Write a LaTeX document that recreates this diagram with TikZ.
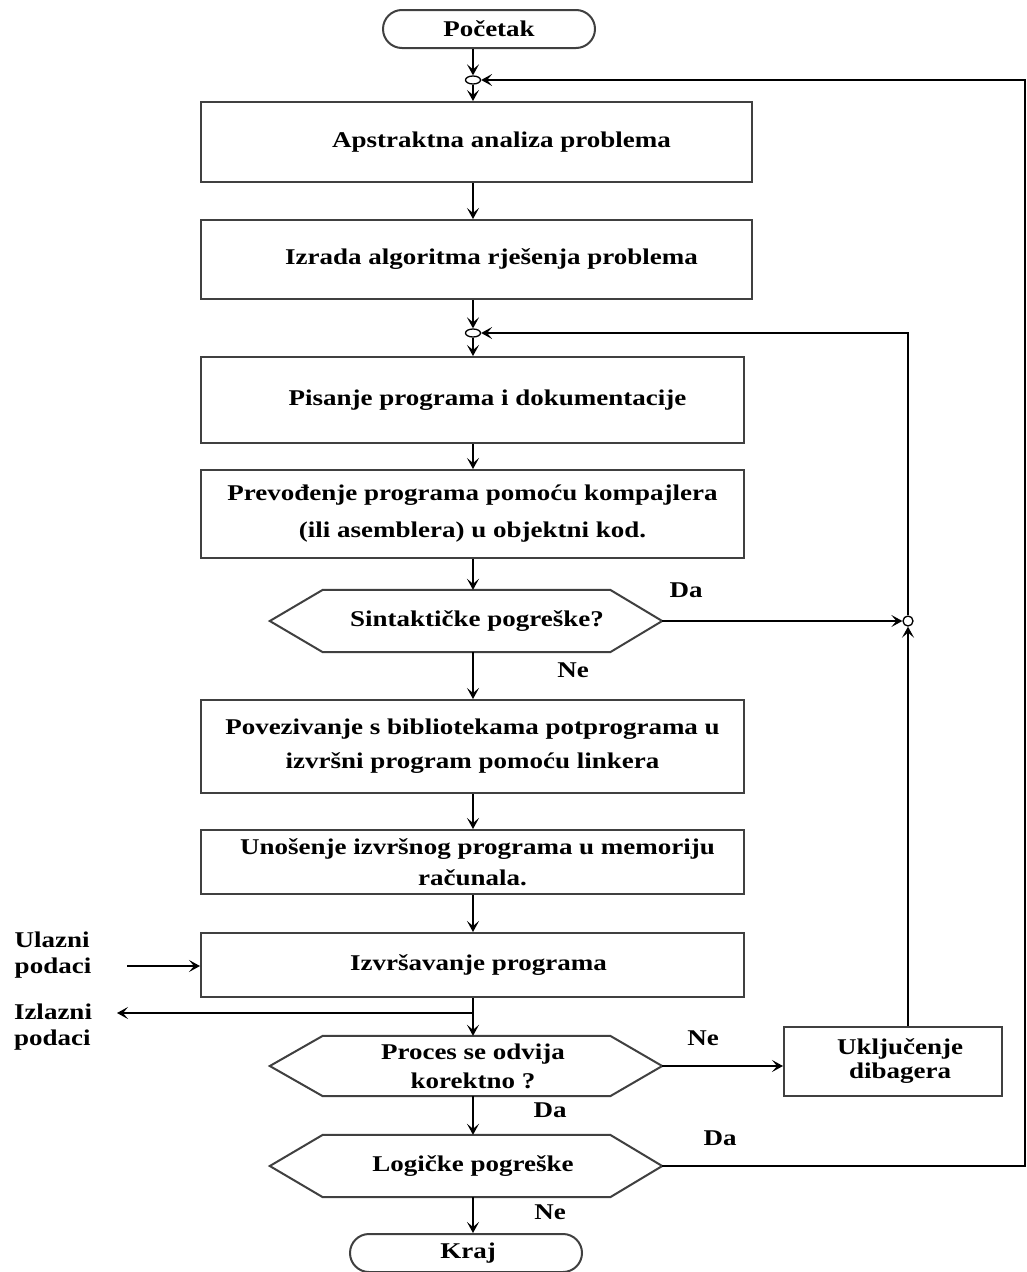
\documentclass[tikz,border=0pt]{standalone}
\usepackage{fontspec}
\setmainfont{Liberation Serif}[FakeStretch=1.2]
\usetikzlibrary{shapes.geometric,shapes.misc,arrows.meta}
\tikzset{
  txt/.style={font=\bfseries\fontsize{22.5}{30}\selectfont, align=center},
  boxline/.style={draw=black!75, line width=2pt},
  stepbox/.style={boxline, rectangle, inner sep=0pt, txt},
  term/.style={boxline, rounded rectangle, inner sep=0pt, txt},
  hexnode/.style={inner sep=0pt, txt},
  junc/.style={draw, ellipse, fill=white, line width=1.3pt, minimum width=15pt, minimum height=8pt, inner sep=0pt},
  conn/.style={line width=1.7pt, -{Stealth[length=11pt, width=12pt, inset=5pt]}},
  lbl/.style={txt, inner sep=0pt}
}
\newcommand{\hexdraw}[1]{\draw[boxline] (#1.west) -- ([xshift=53pt]#1.north west) -- ([xshift=-52pt]#1.north east) -- (#1.east) -- ([xshift=-52pt]#1.south east) -- ([xshift=53pt]#1.south west) -- cycle;}
\begin{document}
\begin{tikzpicture}[x=1pt,y=-1pt]
\useasboundingbox[fill=white] (0,0) rectangle (1027,1272);
\coordinate (ax) at (473,0);
% nodes
\node[term, minimum width=212pt, minimum height=38pt] (start) at (489,29) {Početak};
\node[junc] (j1) at (473,80) {};
\node[stepbox, minimum width=551pt, minimum height=80pt] (b1) at (476.5,142) {\hspace*{50pt}Apstraktna analiza problema};
\node[stepbox, minimum width=551pt, minimum height=79pt] (b2) at (476.5,259.5) {\hspace*{30pt}Izrada algoritma rješenja problema};
\node[junc] (j2) at (473,333) {};
\node[stepbox, minimum width=543pt, minimum height=86pt] (b3) at (472.5,400) {\hspace*{30pt}Pisanje programa i dokumentacije};
\node[stepbox, minimum width=543pt, minimum height=88pt, font=\bfseries\fontsize{22.5}{37}\selectfont] (b4) at (472.5,514) {Prevođenje programa pomoću kompajlera\\(ili asemblera) u objektni kod.};
\node[hexnode, minimum width=392pt, minimum height=62pt] (d1) at (466,621) {\hspace*{22pt}Sintaktičke pogreške?};
\node[draw, circle, fill=white, line width=1.3pt, minimum size=10pt, inner sep=0pt] (c1) at (908,621) {};
\node[stepbox, minimum width=543pt, minimum height=93pt, font=\bfseries\fontsize{22.5}{34}\selectfont] (b5) at (472.5,746.5) {Povezivanje s bibliotekama potprograma u\\izvršni program pomoću linkera};
\node[stepbox, minimum width=543pt, minimum height=64pt, font=\bfseries\fontsize{22.5}{31}\selectfont] (b6) at (472.5,862) {\hspace*{10pt}Unošenje izvršnog programa u memoriju\\računala.};
\node[stepbox, minimum width=543pt, minimum height=64pt] (b7) at (472.5,965) {\hspace*{12pt}Izvršavanje programa};
\node[hexnode, minimum width=392pt, minimum height=60pt, font=\bfseries\fontsize{22.5}{29}\selectfont] (d2) at (466,1066) {\hspace*{14pt}Proces se odvija\\\hspace*{14pt}korektno ?};
\node[stepbox, minimum width=218pt, minimum height=69pt, font=\bfseries\fontsize{22.5}{24}\selectfont] (dbg) at (893,1061.5) {\hspace*{14pt}Uključenje\\\hspace*{14pt}dibagera};
\node[hexnode, minimum width=392pt, minimum height=62pt] (d3) at (466,1166) {\hspace*{14pt}Logičke pogreške};
\node[term, minimum width=232pt, minimum height=38pt] (end) at (466,1253) {\hspace*{4pt}Kraj};
\hexdraw{d1}
\hexdraw{d2}
\hexdraw{d3}
% labels
\node[lbl, align=left, font=\bfseries\fontsize{22.5}{26}\selectfont] (inl) at (53,955) {Ulazni\\podaci};
\node[lbl, align=left, font=\bfseries\fontsize{22.5}{26}\selectfont] (outl) at (53,1027) {Izlazni\\podaci};
\node[lbl] (da1) at (686,590) {Da};
\node[lbl] (ne1) at (573,670) {Ne};
\node[lbl] (ne2) at (703,1038) {Ne};
\node[lbl] (da2) at (550,1110) {Da};
\node[lbl] (da3) at (720,1138) {Da};
\node[lbl] (ne3) at (550,1212) {Ne};
% free ends
\coordinate (inS) at (127,966);
\coordinate (outE) at (117,1013);
\coordinate (outS) at (473,1013);
\coordinate (r1) at (1025,1166);
\coordinate (r2) at (1025,80);
\coordinate (m2) at (908,333);
% connectors
\draw[conn] (start.south -| ax) -- (j1.north);
\draw[conn] (j1.south) -- (b1.north -| ax);
\draw[conn] (b1.south -| ax) -- (b2.north -| ax);
\draw[conn, line width=2.6pt] (b2.south -| ax) -- (j2.north);
\draw[conn] (j2.south) -- (b3.north -| ax);
\draw[conn] (b3.south -| ax) -- (b4.north -| ax);
\draw[conn] (b4.south -| ax) -- (d1.north -| ax);
\draw[conn] (d1.east) -- (c1.west);
\draw[conn] (dbg.north -| c1) -- (c1.south);
\draw[conn] (c1.north) -- (m2) -- (j2.east);
\draw[conn] (d1.south -| ax) -- (b5.north -| ax);
\draw[conn] (b5.south -| ax) -- (b6.north -| ax);
\draw[conn] (b6.south -| ax) -- (b7.north -| ax);
\draw[conn] (inS) -- (b7.west |- inS);
\draw[conn] (b7.south -| ax) -- (d2.north -| ax);
\draw[conn] (outS) -- (outE);
\draw[conn] (d2.east) -- (dbg.west |- d2.east);
\draw[conn] (d2.south -| ax) -- (d3.north -| ax);
\draw[conn] (d3.east) -- (r1) -- (r2) -- (j1.east);
\draw[conn] (d3.south -| ax) -- (end.north -| ax);
\end{tikzpicture}
\end{document}
